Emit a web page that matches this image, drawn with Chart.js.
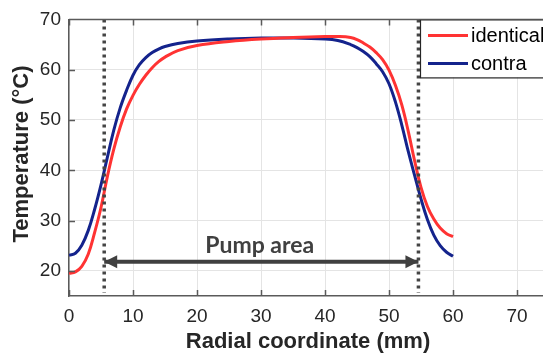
<!DOCTYPE html>
<html>
<head>
<meta charset="utf-8">
<script src="https://cdn.jsdelivr.net/npm/chart.js@4.4.1/dist/chart.umd.min.js"></script>
<style>
    html, body { margin: 0; padding: 0; background: #fff; overflow: hidden; }
    #wrap { width: 600px; height: 358px; }
</style>
</head>
<body>
<div id="wrap"><canvas id="tempChart"></canvas></div>
<script>
// radial positions (mm) where the two profiles are read
const radius = [0, 1, 2, 3, 4, 5, 6, 7, 8, 9, 10, 11, 12, 13, 14, 15, 17, 20, 25, 30, 35, 40, 42, 44, 45, 46, 47, 48, 49, 50, 51, 52, 53, 54, 55, 56, 57, 58, 59, 60];
const identicalTemp = [19.5, 19.8, 20.9, 23.3, 27.6, 32.6, 38.8, 44.2, 48.6, 52.2, 54.9, 57.1, 58.9, 60.4, 61.6, 62.5, 63.8, 64.8, 65.6, 66.1, 66.4, 66.6, 66.6, 66.4, 66.0, 65.3, 64.5, 63.4, 62.0, 59.9, 56.9, 53.0, 47.8, 41.9, 36.6, 32.8, 30.3, 28.5, 27.4, 26.8];
const contraTemp = [23.1, 23.5, 25.1, 28.0, 32.2, 37.1, 42.6, 48.0, 52.4, 55.9, 58.9, 61.0, 62.4, 63.4, 64.1, 64.6, 65.2, 65.7, 66.1, 66.3, 66.3, 66.1, 65.8, 65.0, 64.4, 63.6, 62.6, 61.2, 59.6, 57.2, 53.6, 49.0, 43.8, 39.0, 34.3, 30.2, 27.1, 25.0, 23.7, 22.9];

// pump area limits and arrow height
const pumpEdges = [5.5, 54.6];
const arrowTemp = 21.8;
const pumpLabel = { text: 'Pump area', x: 29.8, y: 25.0 };

// axes
const xTicks = [0, 10, 20, 30, 40, 50, 60, 70];
const yTicks = [20, 30, 40, 50, 60, 70];
const xRange = [0, 80];
const yRange = [15, 70];

const axisColor = '#5a5a5a';
const textColor = '#262626';

function toPoints(xs, ys) {
    return xs.map((x, i) => ({ x: x, y: ys[i] }));
}

// ### EXTRA DRAWING: box, inner ticks, arrow heads, labels, legend ###
const decorPlugin = {
    id: 'decor',
    afterDatasetsDraw(chart) {
        const { ctx, chartArea: a, scales } = chart;
        const sx = scales.x, sy = scales.y;
        ctx.save();

        // top border + inward ticks
        ctx.strokeStyle = axisColor;
        ctx.lineWidth = 1.5;
        ctx.beginPath();
        ctx.moveTo(a.left, a.top);
        ctx.lineTo(a.right, a.top);
        xTicks.forEach(v => {
            const px = Math.round(sx.getPixelForValue(v)) + 0.5;
            ctx.moveTo(px, a.bottom); ctx.lineTo(px, a.bottom - 6);
            ctx.moveTo(px, a.top); ctx.lineTo(px, a.top + 6);
        });
        yTicks.forEach(v => {
            const py = Math.round(sy.getPixelForValue(v)) + 0.5;
            ctx.moveTo(a.left, py); ctx.lineTo(a.left + 6, py);
        });
        ctx.stroke();

        // arrow heads at both pump edges
        const ay = sy.getPixelForValue(arrowTemp);
        ctx.fillStyle = '#404040';
        pumpEdges.forEach((e, i) => {
            const tip = sx.getPixelForValue(e);
            const dir = i === 0 ? 1 : -1;
            ctx.beginPath();
            ctx.moveTo(tip, ay);
            ctx.lineTo(tip + dir * 13, ay - 6.5);
            ctx.lineTo(tip + dir * 13, ay + 6.5);
            ctx.closePath();
            ctx.fill();
        });

        // "Pump area" label
        ctx.font = 'bold 23px Lato, "Open Sans", sans-serif';
        ctx.textAlign = 'center';
        ctx.textBaseline = 'middle';
        ctx.fillStyle = '#404040';
        ctx.fillText(pumpLabel.text, sx.getPixelForValue(pumpLabel.x), sy.getPixelForValue(pumpLabel.y));

        // axis titles
        ctx.fillStyle = textColor;
        ctx.font = 'bold 22px "Liberation Sans", Arial, sans-serif';
        ctx.fillText('Radial coordinate (mm)', 308, 342);
        ctx.save();
        ctx.translate(22, 154);
        ctx.rotate(-Math.PI / 2);
        ctx.fillText('Temperature (°C)', 0, 0);
        ctx.restore();

        // legend box (top right, partly outside the view)
        const lx = 420, ly = a.top, lw = 200, lh = 58;
        ctx.fillStyle = '#fff';
        ctx.fillRect(lx, ly, lw, lh);
        ctx.strokeStyle = '#262626';
        ctx.lineWidth = 1.2;
        ctx.strokeRect(lx + 0.5, ly + 0.5, lw, lh);
        const items = chart.data.datasets.filter(d => d.showInLegend);
        ctx.font = '20px "Liberation Sans", Arial, sans-serif';
        ctx.textAlign = 'left';
        items.forEach((d, i) => {
            const y = ly + 16 + i * 28;
            ctx.strokeStyle = d.borderColor;
            ctx.lineWidth = 3;
            ctx.beginPath();
            ctx.moveTo(lx + 8, y);
            ctx.lineTo(lx + 48, y);
            ctx.stroke();
            ctx.fillStyle = '#000';
            ctx.fillText(d.label, lx + 51, y + 1);
        });

        ctx.restore();
    }
};

function initChart() {
    const ctx = document.getElementById('tempChart').getContext('2d');
    const dotted = {
        borderColor: '#444444',
        borderWidth: 3.5,
        borderDash: [3, 4],
        pointRadius: 0,
        fill: false,
        clip: false
    };

    new Chart(ctx, {
        type: 'line',
        data: {
            datasets: [
                Object.assign({ label: 'edgeL', data: [{ x: pumpEdges[0], y: yRange[1] }, { x: pumpEdges[0], y: 15.6 }] }, dotted),
                Object.assign({ label: 'edgeR', data: [{ x: pumpEdges[1], y: yRange[1] }, { x: pumpEdges[1], y: 15.6 }] }, dotted),
                {
                    label: 'arrow',
                    data: [{ x: pumpEdges[0], y: arrowTemp }, { x: pumpEdges[1], y: arrowTemp }],
                    borderColor: '#404040',
                    borderWidth: 4,
                    pointRadius: 0
                },
                {
                    label: 'identical',
                    showInLegend: true,
                    data: toPoints(radius, identicalTemp),
                    borderColor: '#ff3333',
                    borderWidth: 3,
                    pointRadius: 0,
                    tension: 0.4
                },
                {
                    label: 'contra',
                    showInLegend: true,
                    data: toPoints(radius, contraTemp),
                    borderColor: '#14238c',
                    borderWidth: 3,
                    pointRadius: 0,
                    tension: 0.4
                }
            ]
        },
        options: {
            responsive: false,
            animation: false,
            events: [],
            layout: { padding: { top: 16, right: 19, left: 0, bottom: 0 } },
            plugins: {
                legend: { display: false },
                tooltip: { enabled: false }
            },
            scales: {
                x: {
                    type: 'linear',
                    min: xRange[0],
                    max: xRange[1],
                    afterBuildTicks: s => { s.ticks = xTicks.map(v => ({ value: v })); },
                    afterFit: s => { s.height = 62; },
                    grid: { color: '#e4e4e4', drawTicks: false },
                    border: { color: axisColor, width: 1.5 },
                    ticks: {
                        padding: 9,
                        color: textColor,
                        font: { family: '"Liberation Sans", Arial', size: 19 }
                    }
                },
                y: {
                    min: yRange[0],
                    max: yRange[1],
                    afterBuildTicks: s => { s.ticks = yTicks.map(v => ({ value: v })); },
                    afterFit: s => { s.width = 69; },
                    grid: { color: '#e4e4e4', drawTicks: false },
                    border: { color: axisColor, width: 1.5 },
                    ticks: {
                        padding: 8,
                        color: textColor,
                        font: { family: '"Liberation Sans", Arial', size: 19 }
                    }
                }
            }
        },
        plugins: [decorPlugin]
    });
}

document.getElementById('tempChart').width = 600;
document.getElementById('tempChart').height = 358;
document.addEventListener('DOMContentLoaded', initChart);
</script>
</body>
</html>
